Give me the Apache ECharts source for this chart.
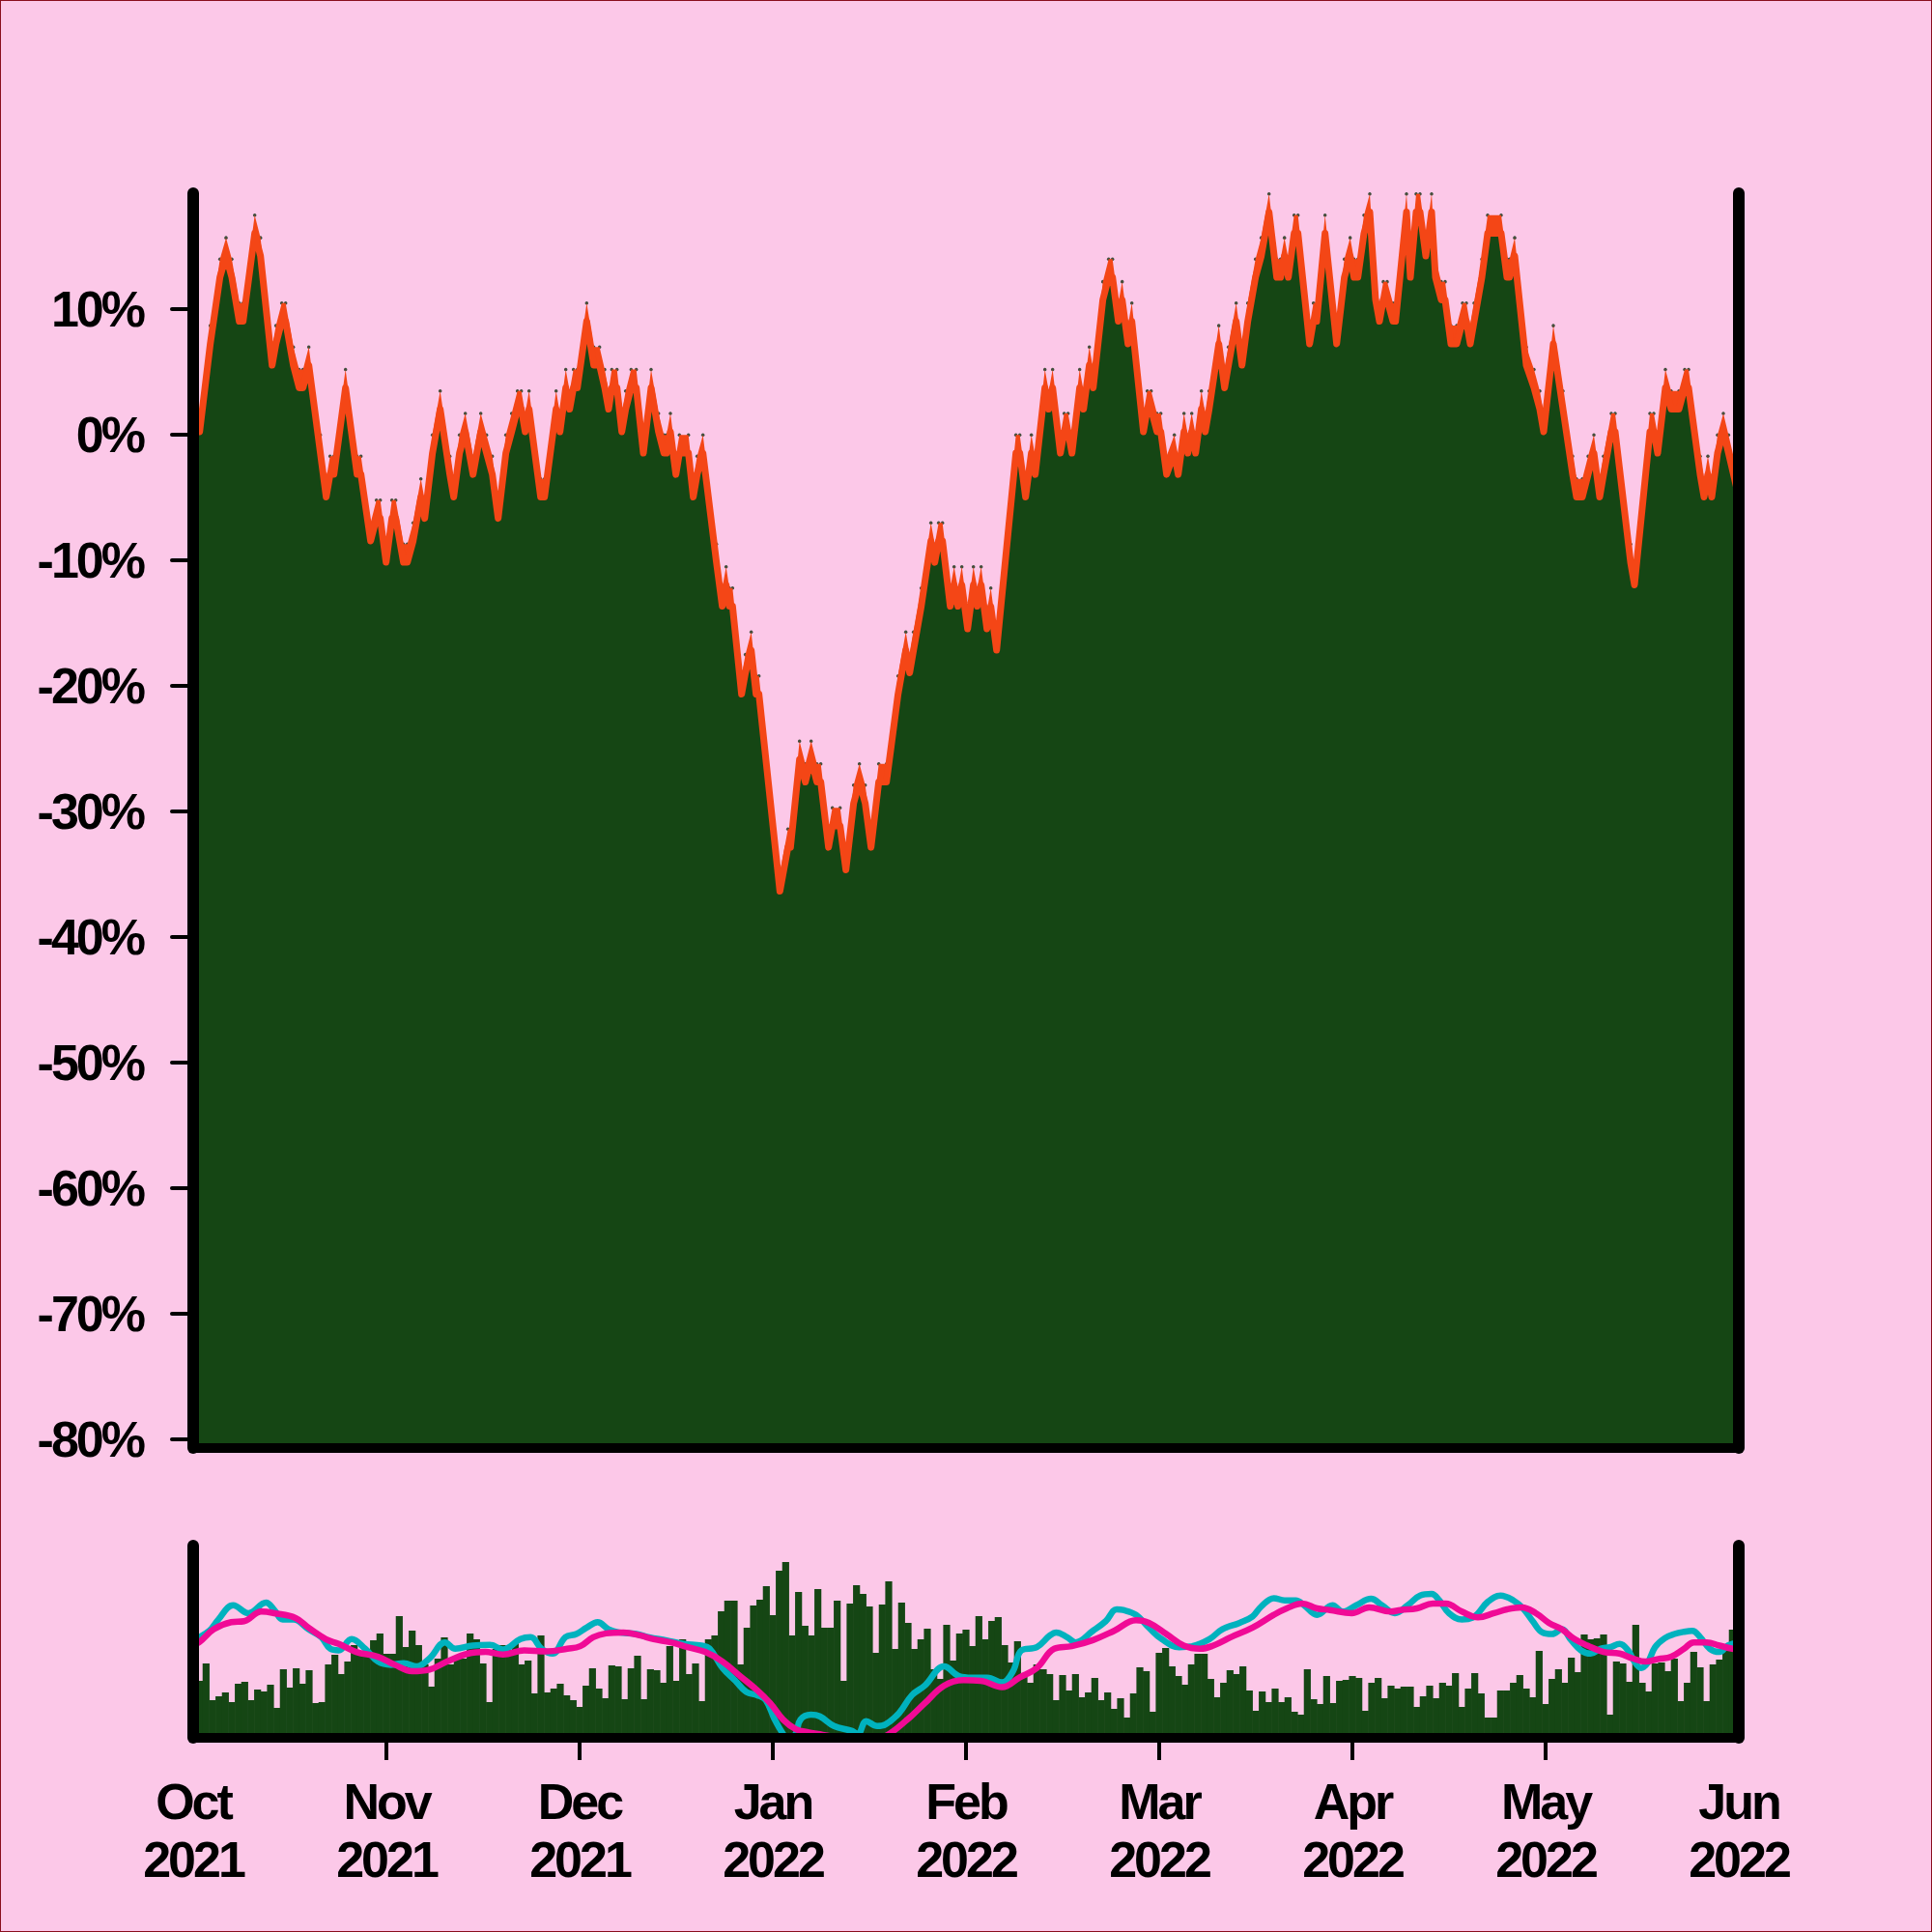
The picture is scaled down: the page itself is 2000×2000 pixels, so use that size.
<!DOCTYPE html>
<html><head><meta charset="utf-8">
<script src="https://cdn.jsdelivr.net/npm/echarts@6/dist/echarts.min.js"></script>
<style>
html,body{margin:0;padding:0;background:#fcc8e8;}
#chart{width:2000px;height:2000px;}
#frame{position:absolute;left:0;top:0;width:2000px;height:2000px;box-sizing:border-box;border:1px solid #8a0f1e;pointer-events:none;}
#chart text{letter-spacing:-3px;}
</style></head><body>
<div id="chart"></div><div id="frame"></div>
<script>
// ---------- data ----------
const monthLabels = ['Oct\n2021','Nov\n2021','Dec\n2021','Jan\n2022','Feb\n2022','Mar\n2022','Apr\n2022','May\n2022','Jun\n2022'];
const monthDays = [0,30,60,90,120,150,180,210,240];        // position of each month label (day index)
const tickDays = [30,60,90,120,150,180,210];
const yTickValues = [-80,-70,-60,-50,-40,-30,-20,-10,0,10];

// price (% change) turning points: day index and value
const priceDay = [0,1,2.65,4.15,5.1,6.0,7.15,7.75,9.55,10.45,12.25,12.85,13.75,14.35,15.55,16.45,17.05,17.95,19.75,20.65,21.25,21.85,23.65,25.45,26.05,27.55,28.45,29.05,29.95,30.85,31.45,32.65,33.25,34.15,35.35,35.95,37.15,38.35,39.85,40.45,41.35,42.25,43.45,44.65,45.55,46.45,47.35,48.55,49.45,50.35,50.95,51.55,52.15,53.95,54.55,56.35,56.95,57.85,58.45,59.05,59.65,
61.1,62.2,63.1,63.9,64.5,65.0,65.8,66.55,67.15,68.0,68.8,69.9,71.1,72.25,73.1,73.5,74.1,74.95,75.5,76.9,77.65,78.25,79.15,81.25,82.15,82.75,83.25,83.75,85.15,85.75,86.65,87.4,87.85,91.1,92.35,92.75,94.15,95.05,95.95,96.85,97.45,98.65,99.25,100.45,101.35,102.55,103.45,104.35,105.25,106.45,107.65,109.45,110.65,111.25,111.85,113.05,114.55,115.15,115.75,116.35,117.55,118.15,118.75,119.35,120.25,121.15,
121.75,122.35,123.25,123.85,124.75,127.75,128.35,129.25,130.15,130.75,132.25,132.85,133.45,134.65,135.25,135.85,136.45,137.65,138.25,139.15,139.75,141.25,142.15,142.75,143.65,144.25,145.15,145.75,147.55,148.15,148.75,149.65,150.25,151.15,152.35,152.95,153.85,154.45,155.05,155.65,156.55,157.15,157.75,159.25,160.15,160.75,161.95,162.85,163.75,164.95,165.85,167.05,168.25,168.85,169.45,170.05,170.95,171.55,173.35,173.95,174.45,175.75,177.55,178.75,179.65,180.25,180.85,
181.8,182.7,183.6,184.2,184.8,185.4,186.3,186.7,188.4,189.0,189.9,190.5,191.4,192.3,192.9,193.8,194.4,195.3,196.2,197.1,197.7,198.3,198.9,200.1,201.0,203.1,204.0,204.4,205.2,207.0,208.2,209.1,209.7,211.2,212.7,214.2,214.8,215.7,216.6,217.5,218.4,219.0,220.2,220.8,223.2,223.8,226.2,226.8,227.4,228.6,229.5,230.7,231.6,232.2,234.0,234.6,235.2,235.8,236.7,237.6,238.4,240];
const pricePct = [1.7,1.7,8.7,14.0,15.7,14.0,10.5,10.5,17.5,15.7,7.0,8.7,10.5,10.5,7.0,5.2,5.2,7.0,0,-3.5,-1.7,-1.7,5.2,-1.7,-1.7,-7.0,-5.2,-5.2,-8.7,-5.2,-5.2,-8.7,-8.7,-7.0,-3.5,-5.2,0,3.5,-1.7,-3.5,0,1.7,-1.7,1.7,0,-1.7,-5.2,0,1.7,3.5,3.5,1.7,3.5,-3.5,-3.5,3.5,1.7,5.2,3.5,5.2,5.2,
10.5,7.0,7.0,5.2,3.5,5.2,5.2,1.7,3.5,5.2,5.2,0,5.2,1.7,0,0,1.7,-1.7,0,0,-3.5,-1.7,0,-8.7,-12.2,-10.5,-12.2,-12.2,-19.2,-17.5,-15.7,-19.2,-19.2,-34.9,-31.4,-31.4,-24.4,-26.2,-24.4,-26.2,-26.2,-31.4,-29.7,-29.7,-33.2,-27.9,-26.2,-27.9,-31.4,-26.2,-26.2,-19.2,-15.7,-17.5,-15.7,-12.2,-7.0,-8.7,-7.0,-7.0,-12.2,-10.5,-12.2,-10.5,-14.0,-10.5,
-12.2,-10.5,-14.0,-12.2,-15.7,0,0,-3.5,0,-1.7,5.2,3.5,5.2,0,1.7,1.7,0,5.2,3.5,7.0,5.2,12.2,14.0,14.0,10.5,12.2,8.7,10.5,1.7,3.5,3.5,1.7,1.7,-1.7,0,-1.7,1.7,0,1.7,0,3.5,1.7,3.5,8.7,5.2,7.0,10.5,7.0,10.5,14.0,15.7,19.2,14.0,14.0,15.7,14.0,17.5,17.5,8.7,10.5,10.5,17.5,8.7,14.0,15.7,14.0,14.0,
17.5,19.2,12.2,10.5,12.2,12.2,10.5,10.5,19.2,14.0,19.2,19.2,15.7,19.2,14.0,12.2,12.2,8.7,8.7,10.5,10.5,8.7,10.5,14.0,17.5,17.5,14.0,14.0,15.7,7.0,5.2,3.5,1.7,8.7,3.5,-1.7,-3.5,-3.5,-1.7,0,-3.5,-1.7,1.7,1.7,-8.7,-10.5,1.7,1.7,0,5.2,3.5,3.5,5.2,5.2,-1.7,-3.5,-1.7,-3.5,0,1.7,0,-3.5];

// daily volume (arbitrary units), one per day index 0..240
const volume = [60,59,77,39,43,47,37,56,58,39,50,48,55,31,71,52,72,56,70,36,37,76,86,66,79,96,89,92,101,108,87,87,126,94,111,96,76,53,82,104,76,82,82,108,102,77,37,92,96,91,99,76,80,46,106,47,51,56,44,39,32,54,72,51,41,75,74,40,72,85,40,71,70,57,95,59,102,
66,77,38,102,106,131,142,142,76,114,137,143,157,127,173,182,106,151,116,106,154,
114,114,142,59,139,158,149,136,88,138,162,92,140,119,92,102,113,71,61,117,80,108,112,95,126,102,121,125,96,78,100,66,57,76,71,66,39,65,49,66,42,47,62,39,47,30,41,21,46,73,69,27,88,93,74,64,55,76,87,87,61,42,57,70,66,74,49,28,48,37,51,37,42,27,24,71,40,35,64,36,59,60,64,62,28,57,62,41,54,51,
53,53,32,43,54,41,57,54,67,32,51,67,46,21,21,49,49,57,65,51,42,90,35,61,71,57,83,68,107,102,103,107,24,79,77,58,117,57,48,77,78,69,82,38,57,89,73,38,76,81,97,112,100];

// short moving average (cyan) and long moving average (magenta), in %
const fastDay = [0,0.9,2.5,3.9,6.2,8.6,11.3,12.6,13.9,15.6,17.9,19.9,21.3,22.6,24.6,26.7,28.7,30.7,32.7,34.7,36.7,39.1,40.7,43.4,46.1,48.1,50.8,52.4,54.1,55.8,57.8,59.5,61.1,62.8,64.5,66.1,68.8,70.8,73.5,76.2,78.9,80.2,82.2,84.2,85.9,87.6,88.9,90.3,91.6,92.6,93.6,94.3,95.9,97.3,99.5,102.2,103.2,104.5,106.2,107.5,109.6,111.6,113.6,116.6,118.9,120.9,123.3,125.6,127.3,128.6,131,133,134,135.7,137,139.7,141.7,143.4,144.4,146.4,148.4,150.4,153.1,155.1,157.8,159.8,162.5,164.5,165.8,167.8,169.5,171.2,172.5,174.5,176.9,178.5,180.6,182.9,184.6,186.6,188.6,190.5,192.3,193.5,195,197,199,201,203,205,206.5,208,209.5,211,212.5,214,215.5,217,218.5,220,221.5,222.8,223.8,224.8,225.8,227,228.5,230,231.5,232.8,234,235.5,237,238.3,240];
const fastVal = [0.8,1.4,3.4,6.9,11.4,8.9,12.2,9.9,6.9,6.9,3.9,1.4,-2.2,-2.7,0.8,-2.2,-6.2,-7.2,-6.7,-7.7,-5.2,-0.2,-2.2,-1.2,-1.0,-2.4,0.8,1.4,-2.2,-3.7,1.4,2.4,4.4,6.1,3.9,2.9,2.4,1.4,0.4,-0.7,-1.2,-2.2,-8.2,-12.2,-15.7,-16.7,-18.2,-24.3,-28.8,-31,-28.5,-24.3,-22.8,-23.3,-26.3,-27.8,-28.8,-24.8,-26.3,-25.8,-22.3,-16.7,-13.7,-7.7,-10.7,-11.2,-11.2,-12.7,-9.2,-2.7,-1.7,1.9,2.9,1.4,-0.2,3.4,6.4,10.1,9.9,8.4,4.4,0.8,-1.7,-1.4,0.8,3.9,5.9,7.9,10.9,13.6,12.9,12.9,11.4,8.4,11.4,9.4,11.4,13.4,11.4,8.9,11.4,14.4,14.9,12.9,8.9,6.9,7.9,12.4,14.4,12.9,10.4,6.4,2.9,2.4,3.9,0.4,-2.7,-3.7,-2.2,-1.7,-0.7,-2.7,-6.2,-8.2,-6.7,-1.7,1.1,2.4,3.1,3.4,1.4,-2.2,-3.2,-1.2,-0.2];
const slowDay = [0,0.9,3.2,5.9,7.9,10.6,12.6,15.9,17.9,20.6,22.6,25.3,28.7,31.3,34.0,36.7,39.4,42.7,45.4,48.1,51.4,54.8,58.1,60.1,62.1,64.1,66.8,69.5,71.5,74.2,76.8,79.5,82.2,84.9,87.6,89.6,91.6,93.6,95.6,97.0,99,102,105,107.5,110.9,113.6,116.6,119.6,122.3,125.6,128.3,131,133.7,136.4,139.7,143,146.4,148.4,151.1,153.8,156.4,158.4,161.1,164.5,167.8,169.8,172.2,174.5,176.5,179.9,182.6,185.9,187.5,190,192.5,194.5,197,199.5,202,204,206.3,208.5,210.5,212.5,214.5,216.5,219,221.5,223.5,225.5,227.5,229.5,231.5,233,235,237,239,240];
const slowVal = [-1.0,-0.2,3.9,6.1,6.4,9.4,8.9,7.4,4.4,0.8,-0.7,-3.2,-4.7,-7.2,-9.2,-8.7,-6.2,-3.7,-3.2,-4.0,-2.7,-3.0,-2.2,-1.4,1.4,2.6,2.9,1.9,0.8,-0.2,-1.7,-3.2,-6.2,-10.7,-15.2,-19.2,-24.3,-27.3,-28.3,-28.8,-29.5,-31,-31,-29.5,-24.3,-19.2,-13.7,-12.0,-12.2,-14.2,-11.2,-8.2,-2.2,-1.4,0.5,3.4,6.7,5.9,2.4,-1.2,-2.2,-1.2,1.4,4.4,8.4,10.4,11.9,10.4,9.9,8.9,10.7,9.4,9.9,10.4,11.9,11.9,9.4,7.6,8.9,10.1,10.7,8.9,5.9,3.9,0.8,-1.2,-3.2,-3.7,-5.2,-6.2,-5.4,-4.7,-2.2,-0.2,-0.2,-1.2,-2.2,-2.4];

// ---------- styles ----------
const PINK = '#fcc8e8', GREEN = '#154614', ORANGE = '#f44616', CYAN = '#00b2be', MAGENTA = '#f00a96', BLACK = '#000';
const FONT = 'Liberation Sans';
const BAND = 1.45;      // vertical depth of the orange band (in % units)
const EDGE = 7;         // stroke width of the orange edge, px
const labelStyle = {fontSize:52, fontWeight:'bold', fontFamily:FONT, color:BLACK};
const lineOnlyAxis = (grid, pos, min, max, w) => ({
  gridIndex:grid, type:'value', position:pos, min:min, max:max, z:10,
  axisLine:{show:true, onZero:false, lineStyle:{color:BLACK, width:w, cap:'round'}},
  axisTick:{show:false}, axisLabel:{show:false}, splitLine:{show:false}
});

const pricePairs = priceDay.map((d,i)=>[d, pricePct[i]]);
const lowPairs = priceDay.map((d,i)=>[d, pricePct[i]-BAND]);

const chart = echarts.init(document.getElementById('chart'), null, {renderer:'svg', width:2000, height:2000});
chart.setOption({
  backgroundColor: PINK,
  animation: false,
  grid: [
    {left:200, right:200, top:200, height:1299},
    {left:200, right:200, top:1600, height:199}
  ],
  xAxis: [
    lineOnlyAxis(0,'bottom',0,240,10),
    {gridIndex:1, type:'value', position:'bottom', min:0, max:240, z:10,
     axisLine:{show:true, onZero:false, lineStyle:{color:BLACK, width:10, cap:'round'}},
     axisTick:{show:true, length:23, customValues:tickDays, lineStyle:{color:BLACK, width:4}},
     axisLabel:Object.assign({show:true, customValues:monthDays, margin:36, lineHeight:60,
       formatter:(v)=>monthLabels[Math.round(v/30)]}, labelStyle),
     splitLine:{show:false}}
  ],
  yAxis: [
    {gridIndex:0, type:'value', position:'left', min:-80.7, max:19.25, z:10,
     axisLine:{show:true, onZero:false, lineStyle:{color:BLACK, width:12, cap:'round'}},
     axisTick:{show:true, length:22, customValues:yTickValues, lineStyle:{color:BLACK, width:4, cap:'round'}},
     axisLabel:Object.assign({show:true, customValues:yTickValues, margin:52, formatter:(v)=>v+'%'}, labelStyle),
     splitLine:{show:false}},
    lineOnlyAxis(0,'right',-80.7,19.25,12),
    lineOnlyAxis(1,'left',0,199,12),
    lineOnlyAxis(1,'right',-30,30,12)
  ],
  series: [
    {type:'scatter', xAxisIndex:0, yAxisIndex:0, z:1, data:pricePairs, symbolSize:3.5,
     itemStyle:{color:'#123012'}, silent:true},
    {type:'line', xAxisIndex:0, yAxisIndex:0, z:2, data:pricePairs, showSymbol:false, symbol:'none',
     lineStyle:{width:0, opacity:0}, areaStyle:{color:ORANGE, opacity:1, origin:'start'}},
    {type:'line', xAxisIndex:0, yAxisIndex:0, z:3, data:lowPairs, showSymbol:false, symbol:'none',
     lineStyle:{width:EDGE, color:ORANGE, join:'round'}, areaStyle:{color:GREEN, opacity:1, origin:'start'}},
    {type:'bar', xAxisIndex:1, yAxisIndex:2, z:2, data:volume.map((v,i)=>[i,v]), barWidth:7.2,
     itemStyle:{color:GREEN}},
    {type:'line', xAxisIndex:1, yAxisIndex:3, z:4, data:fastDay.map((d,i)=>[d,fastVal[i]]), smooth:0.4,
     showSymbol:false, symbol:'none', lineStyle:{color:CYAN, width:6.5}},
    {type:'line', xAxisIndex:1, yAxisIndex:3, z:5, data:slowDay.map((d,i)=>[d,slowVal[i]]), smooth:0.4,
     showSymbol:false, symbol:'none', lineStyle:{color:MAGENTA, width:6.5}}
  ]
});
</script></body></html>
